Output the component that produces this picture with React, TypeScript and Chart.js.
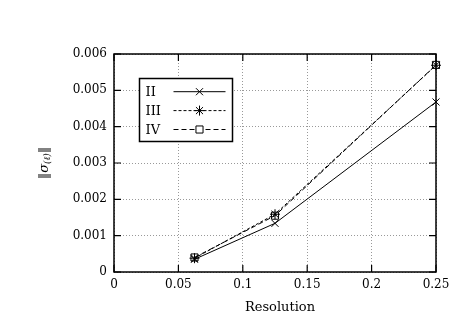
import React, { useEffect, useRef } from "react";
import { Chart, registerables } from "chart.js";
Chart.register(...registerables);

const resolution = [0.0625, 0.125, 0.25];
const seriesII = [0.00035, 0.00134, 0.00468];
const seriesIII = [0.00038, 0.00159, 0.00569];
const seriesIV = [0.0004, 0.00155, 0.0057];
const seriesNames = ["II", "III", "IV"];
const xTickValues = [0, 0.05, 0.1, 0.15, 0.2, 0.25];
const yTickValues = [0, 0.001, 0.002, 0.003, 0.004, 0.005, 0.006];
const xTitle = "Resolution";

const FONT = '"DejaVu Serif", serif';
Chart.defaults.font.family = FONT;

function fmt(v: number) {
  return String(Number(v.toFixed(5)));
}

function drawMarker(ctx: CanvasRenderingContext2D, style: string, x: number, y: number, r: number) {
  const d = r * Math.SQRT1_2;
  ctx.beginPath();
  if (style === "crossRot" || style === "star") {
    ctx.moveTo(x - d, y - d); ctx.lineTo(x + d, y + d);
    ctx.moveTo(x - d, y + d); ctx.lineTo(x + d, y - d);
  }
  if (style === "star") {
    ctx.moveTo(x, y - r); ctx.lineTo(x, y + r);
    ctx.moveTo(x - r, y); ctx.lineTo(x + r, y);
  }
  if (style === "rect") {
    ctx.rect(x - d, y - d, 2 * d, 2 * d);
  }
  ctx.stroke();
}

const styles = [
  { name: seriesNames[0], dash: [] as number[], marker: "crossRot" },
  { name: seriesNames[1], dash: [3, 2], marker: "star" },
  { name: seriesNames[2], dash: [5, 3], marker: "rect" },
];

const framePlugin = {
  id: "gnuplotFrame",
  afterDraw(chart: any) {
    const ctx: CanvasRenderingContext2D = chart.ctx;
    const { left, right, top, bottom } = chart.chartArea;
    const xs = chart.scales.x;
    const ys = chart.scales.y;
    ctx.save();
    ctx.strokeStyle = "#000";
    ctx.lineWidth = 1.5;
    ctx.setLineDash([]);
    ctx.strokeRect(left, top, right - left, bottom - top);
    // inward ticks
    const tl = 7;
    ctx.lineWidth = 1.2;
    ctx.beginPath();
    xTickValues.forEach((v) => {
      const px = xs.getPixelForValue(v);
      ctx.moveTo(px, bottom); ctx.lineTo(px, bottom - tl);
      ctx.moveTo(px, top); ctx.lineTo(px, top + tl);
    });
    yTickValues.forEach((v) => {
      const py = ys.getPixelForValue(v);
      ctx.moveTo(left, py); ctx.lineTo(left + tl, py);
      ctx.moveTo(right, py); ctx.lineTo(right - tl, py);
    });
    ctx.stroke();

    // legend
    const bx = 139.5, by = 78.5, bw = 93, bh = 63;
    ctx.fillStyle = "#fff";
    ctx.fillRect(bx, by, bw, bh);
    ctx.lineWidth = 1.5;
    ctx.strokeRect(bx, by, bw, bh);
    ctx.font = `13px ${FONT}`;
    ctx.fillStyle = "#000";
    ctx.textBaseline = "middle";
    ctx.textAlign = "left";
    styles.forEach((s, i) => {
      const y = 91.7 + i * 18.9;
      ctx.fillText(s.name, bx + 6, y + 1);
      ctx.lineWidth = 1;
      ctx.setLineDash(s.dash);
      ctx.beginPath();
      ctx.moveTo(bx + 34, y); ctx.lineTo(bx + 86, y);
      ctx.stroke();
      ctx.setLineDash([]);
      if (s.marker === "rect") {
        ctx.fillStyle = "#fff";
        const d = 5 * Math.SQRT1_2;
        ctx.fillRect(bx + 60 - d, y - d, 2 * d, 2 * d);
        ctx.fillStyle = "#000";
      }
      drawMarker(ctx, s.marker, bx + 60, y, 5);
    });

    // x title
    ctx.font = `13px ${FONT}`;
    ctx.textAlign = "center";
    ctx.textBaseline = "middle";
    ctx.fillText(xTitle, 280, 308);

    // y title: ‖σ_(ℓ)‖ rotated
    ctx.translate(45, (top + bottom) / 2);
    ctx.rotate(-Math.PI / 2);
    ctx.textAlign = "left";
    ctx.textBaseline = "middle";
    const parts = [
      { t: "‖", f: `13px ${FONT}`, dy: 0 },
      { t: "σ", f: `italic 13px ${FONT}`, dy: 0 },
      { t: "(ℓ)", f: `italic 9px ${FONT}`, dy: 3 },
      { t: "‖", f: `13px ${FONT}`, dy: 0 },
    ];
    let total = 0;
    parts.forEach((p) => { ctx.font = p.f; total += ctx.measureText(p.t).width; });
    let cx = -total / 2;
    parts.forEach((p) => {
      ctx.font = p.f;
      ctx.fillText(p.t, cx, p.dy);
      cx += ctx.measureText(p.t).width;
    });
    ctx.restore();
  },
};

export default function App() {
  const ref = useRef<HTMLCanvasElement | null>(null);
  useEffect(() => {
    if (!ref.current) return;
    const mk = (data: number[]) => resolution.map((x, i) => ({ x, y: data[i] }));
    const tickFont = { family: FONT, size: 12 };
    const chart = new Chart(ref.current, {
      type: "line",
      data: {
        datasets: [
          { label: seriesNames[0], data: mk(seriesII), borderColor: "#000", borderWidth: 1, pointStyle: "crossRot", pointRadius: 5, pointBorderWidth: 1, pointBorderColor: "#000", backgroundColor: "transparent", clip: false } as any,
          { label: seriesNames[1], data: mk(seriesIII), borderColor: "#000", borderWidth: 1, borderDash: [3, 2], pointStyle: "star", pointRadius: 5, pointBorderWidth: 1, pointBorderColor: "#000", backgroundColor: "transparent", clip: false } as any,
          { label: seriesNames[2], data: mk(seriesIV), borderColor: "#000", borderWidth: 1, borderDash: [5, 3], pointStyle: "rect", pointRadius: 5, pointBorderWidth: 1, pointBorderColor: "#000", pointBackgroundColor: "transparent", backgroundColor: "transparent", clip: false } as any,
        ],
      },
      options: {
        animation: false,
        responsive: false,
        layout: { padding: { top: 54, right: 31, left: 0, bottom: 0 } },
        plugins: { legend: { display: false }, tooltip: { enabled: false } },
        scales: {
          x: {
            type: "linear",
            min: 0,
            max: 0.25,
            afterBuildTicks: (s: any) => { s.ticks = xTickValues.map((v) => ({ value: v })); },
            afterFit: (s: any) => { s.height = 55; },
            ticks: { callback: (v: any) => fmt(Number(v)), font: tickFont, color: "#000", padding: 6, maxRotation: 0 },
            grid: { color: "#999", lineWidth: 1, drawTicks: false },
            border: { display: false, dash: [1, 2] },
          },
          y: {
            type: "linear",
            min: 0,
            max: 0.006,
            afterBuildTicks: (s: any) => { s.ticks = yTickValues.map((v) => ({ value: v })); },
            afterFit: (s: any) => { s.width = 114; },
            ticks: { callback: (v: any) => fmt(Number(v)), font: tickFont, color: "#000", padding: 7 },
            grid: { color: "#999", lineWidth: 1, drawTicks: false },
            border: { display: false, dash: [1, 2] },
          },
        },
      },
      plugins: [framePlugin],
    } as any);
    return () => chart.destroy();
  }, []);
  return (
    <div style={{ position: "absolute", left: 0, top: 0, width: 467, height: 327, background: "#fff" }}>
      <canvas ref={ref} width={467} height={327} style={{ display: "block" }} />
    </div>
  );
}
